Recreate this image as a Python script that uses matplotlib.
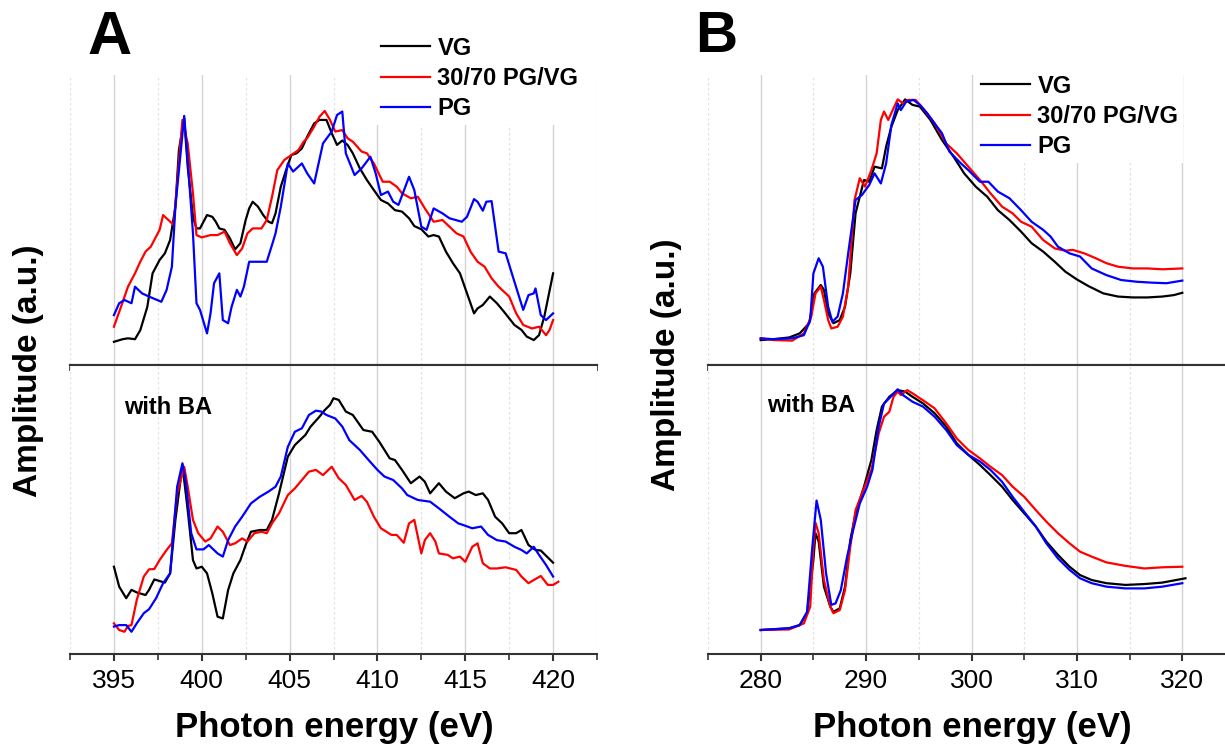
import matplotlib
matplotlib.use("Agg")
from matplotlib import pyplot as plt
from matplotlib.ticker import MultipleLocator

plt.rcParams['font.family'] = ['Liberation Sans', 'DejaVu Sans']

# ---- panel A, top (N K-edge) ----
a_top_vg_x = [395.0, 395.5, 395.8, 396.2, 396.5, 396.9, 397.2, 397.6, 397.9, 398.2, 398.5, 398.7, 399.0, 399.2, 399.5, 399.7, 399.9, 400.3, 400.6, 400.8, 401.0, 401.3, 401.6, 401.9, 402.2, 402.5, 402.7, 402.9, 403.2, 403.5, 403.8, 404.0, 404.2, 404.5, 404.8, 405.1, 405.4, 405.7, 406.0, 406.4, 406.7, 407.1, 407.4, 407.7, 408.0, 408.3, 408.6, 409.0, 409.4, 409.8, 410.2, 410.6, 411.0, 411.4, 411.8, 412.1, 412.5, 412.9, 413.2, 413.5, 413.9, 414.3, 414.7, 415.1, 415.5, 415.7, 416.0, 416.4, 416.8, 417.2, 417.8, 418.2, 418.5, 418.9, 419.2, 419.5, 420.0]
a_top_vg_y = [0.08, 0.089, 0.092, 0.089, 0.12, 0.2, 0.316, 0.362, 0.385, 0.431, 0.546, 0.741, 0.851, 0.684, 0.511, 0.471, 0.471, 0.517, 0.511, 0.494, 0.471, 0.466, 0.437, 0.399, 0.42, 0.5, 0.54, 0.563, 0.546, 0.517, 0.494, 0.489, 0.523, 0.615, 0.672, 0.724, 0.73, 0.747, 0.787, 0.833, 0.845, 0.845, 0.799, 0.759, 0.774, 0.759, 0.73, 0.678, 0.638, 0.603, 0.569, 0.557, 0.534, 0.529, 0.506, 0.479, 0.468, 0.443, 0.448, 0.443, 0.391, 0.351, 0.316, 0.247, 0.178, 0.195, 0.207, 0.236, 0.213, 0.184, 0.138, 0.121, 0.098, 0.086, 0.103, 0.167, 0.316]
a_top_mix_x = [395.0, 395.4, 395.8, 396.2, 396.5, 396.8, 397.1, 397.4, 397.6, 397.8, 398.1, 398.4, 398.6, 398.9, 399.2, 399.5, 399.7, 400.0, 400.5, 400.9, 401.3, 401.6, 402.0, 402.3, 402.6, 402.9, 403.4, 403.7, 404.0, 404.3, 404.7, 405.1, 405.5, 405.8, 406.0, 406.4, 406.7, 407.0, 407.3, 407.6, 408.0, 408.3, 408.6, 409.1, 409.4, 409.8, 410.3, 410.7, 411.1, 411.4, 411.9, 412.3, 412.7, 413.2, 413.7, 414.1, 414.5, 414.9, 415.3, 415.7, 416.1, 416.5, 416.9, 417.5, 417.9, 418.3, 418.8, 419.2, 419.6, 419.8, 420.0]
a_top_mix_y = [0.132, 0.2, 0.27, 0.316, 0.356, 0.391, 0.408, 0.443, 0.466, 0.517, 0.5, 0.483, 0.626, 0.845, 0.764, 0.592, 0.448, 0.44, 0.448, 0.448, 0.46, 0.42, 0.379, 0.402, 0.454, 0.471, 0.471, 0.5, 0.58, 0.672, 0.707, 0.724, 0.741, 0.77, 0.782, 0.822, 0.856, 0.876, 0.845, 0.805, 0.81, 0.782, 0.77, 0.736, 0.73, 0.695, 0.632, 0.632, 0.615, 0.592, 0.575, 0.58, 0.54, 0.494, 0.5, 0.477, 0.454, 0.443, 0.391, 0.356, 0.339, 0.299, 0.27, 0.236, 0.178, 0.138, 0.126, 0.132, 0.103, 0.121, 0.155]
a_top_pg_x = [395.0, 395.3, 395.6, 396.0, 396.2, 396.6, 397.0, 397.7, 398.0, 398.3, 398.5, 399.0, 399.2, 399.5, 399.7, 399.9, 400.3, 400.5, 400.7, 401.0, 401.2, 401.5, 401.7, 402.0, 402.2, 402.4, 402.7, 403.3, 403.7, 404.0, 404.2, 404.5, 404.9, 405.2, 405.7, 406.0, 406.4, 406.9, 407.4, 407.7, 408.0, 408.2, 408.7, 409.1, 409.6, 409.9, 410.2, 410.6, 410.9, 411.2, 411.8, 412.1, 412.5, 412.8, 413.2, 413.7, 414.1, 414.8, 415.1, 415.5, 415.7, 416.0, 416.2, 416.5, 416.9, 417.3, 417.8, 418.3, 418.6, 418.9, 419.0, 419.3, 419.6, 420.0]
a_top_pg_y = [0.172, 0.213, 0.224, 0.213, 0.27, 0.247, 0.236, 0.218, 0.259, 0.339, 0.546, 0.859, 0.707, 0.454, 0.213, 0.19, 0.109, 0.178, 0.282, 0.316, 0.155, 0.144, 0.201, 0.259, 0.236, 0.27, 0.356, 0.356, 0.356, 0.414, 0.454, 0.546, 0.695, 0.667, 0.695, 0.661, 0.626, 0.764, 0.805, 0.862, 0.874, 0.73, 0.655, 0.678, 0.718, 0.661, 0.586, 0.598, 0.563, 0.552, 0.649, 0.603, 0.477, 0.466, 0.54, 0.523, 0.506, 0.494, 0.511, 0.572, 0.563, 0.532, 0.563, 0.565, 0.391, 0.385, 0.287, 0.19, 0.241, 0.247, 0.264, 0.172, 0.155, 0.178]

# ---- panel A, bottom (with BA) ----
a_bot_vg_x = [395.0, 395.3, 395.7, 396.0, 396.3, 396.8, 397.0, 397.3, 397.9, 398.2, 398.5, 398.9, 399.2, 399.5, 399.7, 400.0, 400.3, 400.6, 400.9, 401.2, 401.5, 401.8, 402.2, 402.5, 402.8, 403.3, 403.7, 404.0, 404.4, 404.9, 405.3, 405.9, 406.2, 406.7, 407.0, 407.3, 407.5, 407.8, 408.2, 408.6, 409.2, 409.7, 410.1, 410.7, 411.0, 411.4, 411.9, 412.4, 412.7, 413.0, 413.5, 413.9, 414.4, 414.9, 415.2, 415.6, 416.0, 416.3, 416.7, 417.1, 417.5, 417.9, 418.2, 418.6, 419.0, 419.3, 420.0]
a_bot_vg_y = [0.302, 0.233, 0.193, 0.222, 0.213, 0.204, 0.222, 0.258, 0.247, 0.279, 0.464, 0.654, 0.498, 0.325, 0.296, 0.302, 0.279, 0.21, 0.129, 0.123, 0.221, 0.279, 0.325, 0.377, 0.423, 0.429, 0.429, 0.464, 0.556, 0.683, 0.723, 0.758, 0.787, 0.821, 0.844, 0.862, 0.885, 0.879, 0.839, 0.827, 0.775, 0.769, 0.735, 0.677, 0.671, 0.637, 0.591, 0.614, 0.596, 0.556, 0.591, 0.562, 0.539, 0.556, 0.562, 0.55, 0.556, 0.533, 0.475, 0.452, 0.418, 0.418, 0.429, 0.377, 0.36, 0.358, 0.316]
a_bot_mix_x = [395.0, 395.3, 395.6, 395.8, 396.0, 396.3, 396.7, 397.0, 397.3, 397.6, 398.0, 398.3, 398.6, 399.0, 399.2, 399.5, 399.8, 400.2, 400.5, 400.9, 401.2, 401.6, 401.9, 402.3, 402.6, 403.0, 403.4, 403.7, 404.0, 404.4, 404.9, 405.3, 405.7, 406.1, 406.5, 406.9, 407.4, 407.8, 408.2, 408.7, 409.1, 409.4, 409.8, 410.2, 410.8, 411.1, 411.5, 411.8, 412.1, 412.5, 412.7, 413.0, 413.3, 413.5, 414.0, 414.3, 414.7, 415.0, 415.4, 415.7, 416.0, 416.4, 416.8, 417.3, 417.9, 418.2, 418.6, 418.9, 419.3, 419.7, 420.0, 420.3]
a_bot_mix_y = [0.106, 0.083, 0.077, 0.097, 0.1, 0.187, 0.268, 0.293, 0.294, 0.325, 0.36, 0.383, 0.556, 0.648, 0.579, 0.464, 0.418, 0.389, 0.4, 0.441, 0.423, 0.377, 0.383, 0.4, 0.389, 0.418, 0.423, 0.418, 0.452, 0.487, 0.55, 0.573, 0.602, 0.631, 0.637, 0.619, 0.648, 0.608, 0.585, 0.533, 0.547, 0.527, 0.475, 0.435, 0.412, 0.412, 0.385, 0.452, 0.464, 0.348, 0.394, 0.418, 0.389, 0.348, 0.343, 0.331, 0.337, 0.319, 0.371, 0.383, 0.314, 0.296, 0.296, 0.3, 0.291, 0.268, 0.245, 0.256, 0.27, 0.239, 0.239, 0.25]
a_bot_pg_x = [395.0, 395.3, 395.7, 396.0, 396.3, 396.7, 397.0, 397.4, 397.8, 398.2, 398.6, 398.9, 399.1, 399.4, 399.7, 400.1, 400.4, 400.9, 401.2, 401.5, 401.9, 402.3, 402.8, 403.3, 403.8, 404.2, 404.5, 404.9, 405.3, 405.7, 406.1, 406.5, 406.8, 407.1, 407.6, 408.0, 408.4, 409.0, 409.5, 410.0, 410.4, 410.9, 411.4, 411.7, 412.3, 413.0, 413.5, 414.1, 414.6, 414.9, 415.4, 415.9, 416.3, 416.8, 417.3, 417.8, 418.2, 418.5, 418.9, 419.2, 419.6, 420.0]
a_bot_pg_y = [0.095, 0.1, 0.1, 0.077, 0.106, 0.141, 0.155, 0.193, 0.245, 0.279, 0.579, 0.66, 0.591, 0.418, 0.362, 0.362, 0.377, 0.348, 0.337, 0.394, 0.441, 0.475, 0.521, 0.544, 0.562, 0.579, 0.614, 0.717, 0.769, 0.781, 0.827, 0.842, 0.839, 0.827, 0.815, 0.787, 0.74, 0.706, 0.671, 0.637, 0.614, 0.602, 0.573, 0.55, 0.533, 0.527, 0.504, 0.475, 0.452, 0.446, 0.435, 0.441, 0.412, 0.394, 0.389, 0.371, 0.36, 0.348, 0.371, 0.343, 0.308, 0.268]

# ---- panel B, top (C K-edge) ----
b_top_vg_x = [280, 281.2, 282.7, 283.7, 284.6, 285.1, 285.7, 286.0, 286.4, 286.9, 287.5, 288.0, 288.5, 289.0, 289.8, 290.3, 290.8, 291.5, 291.9, 292.4, 293.0, 293.7, 294.4, 295.1, 296.1, 297.2, 298.3, 299.3, 300.4, 301.5, 302.5, 303.6, 304.7, 305.7, 306.8, 307.9, 308.9, 310.0, 311.1, 312.5, 313.9, 315.3, 316.7, 318.1, 319.2, 320]
b_top_vg_y = [0.086, 0.089, 0.095, 0.109, 0.144, 0.247, 0.276, 0.259, 0.178, 0.144, 0.155, 0.201, 0.316, 0.523, 0.638, 0.632, 0.684, 0.678, 0.753, 0.822, 0.879, 0.916, 0.897, 0.891, 0.845, 0.776, 0.718, 0.661, 0.615, 0.58, 0.534, 0.5, 0.46, 0.42, 0.391, 0.356, 0.322, 0.295, 0.272, 0.247, 0.236, 0.233, 0.233, 0.236, 0.241, 0.249]
b_top_mix_x = [280, 281.2, 283.0, 284.1, 284.8, 285.2, 285.7, 286.0, 286.4, 286.7, 287.3, 287.8, 288.3, 288.9, 289.4, 289.9, 290.5, 291.0, 291.4, 291.7, 292.1, 292.6, 293.0, 293.5, 294.0, 294.7, 295.4, 296.5, 297.6, 298.6, 299.7, 300.8, 301.8, 302.9, 303.9, 304.7, 305.7, 306.8, 307.9, 308.9, 309.6, 310.7, 311.8, 312.8, 313.9, 315.3, 316.7, 318.1, 320]
b_top_mix_y = [0.092, 0.086, 0.084, 0.109, 0.167, 0.247, 0.27, 0.224, 0.155, 0.126, 0.132, 0.167, 0.27, 0.569, 0.644, 0.615, 0.672, 0.73, 0.845, 0.874, 0.845, 0.885, 0.916, 0.902, 0.914, 0.914, 0.885, 0.833, 0.764, 0.73, 0.684, 0.638, 0.592, 0.546, 0.523, 0.494, 0.477, 0.431, 0.402, 0.394, 0.397, 0.385, 0.368, 0.351, 0.339, 0.333, 0.333, 0.33, 0.333]
b_top_pg_x = [280, 281.2, 283.0, 284.1, 284.7, 285.0, 285.5, 285.9, 286.4, 286.8, 287.3, 287.8, 288.3, 289.0, 289.6, 290.3, 290.8, 291.4, 291.9, 292.4, 293.0, 293.3, 293.8, 294.5, 295.1, 295.8, 296.5, 297.2, 297.9, 299.0, 299.7, 300.8, 301.6, 302.5, 303.6, 304.7, 305.7, 306.8, 307.5, 308.2, 309.3, 310.3, 311.4, 312.8, 314.2, 315.7, 317.1, 318.5, 320]
b_top_pg_y = [0.092, 0.089, 0.092, 0.103, 0.155, 0.316, 0.368, 0.339, 0.201, 0.149, 0.167, 0.247, 0.385, 0.569, 0.586, 0.621, 0.661, 0.626, 0.695, 0.828, 0.902, 0.879, 0.908, 0.914, 0.897, 0.868, 0.833, 0.799, 0.736, 0.695, 0.672, 0.632, 0.632, 0.598, 0.575, 0.534, 0.494, 0.466, 0.443, 0.408, 0.385, 0.374, 0.333, 0.31, 0.293, 0.287, 0.284, 0.282, 0.291]

# ---- panel B, bottom (with BA) ----
b_bot_vg_x = [280, 282.7, 283.7, 284.4, 285.0, 285.2, 285.5, 286.0, 286.6, 286.9, 287.5, 288.0, 288.5, 289.0, 289.8, 290.5, 291.0, 291.5, 292.2, 293.0, 293.7, 294.4, 295.4, 296.5, 297.6, 298.6, 299.7, 300.8, 301.8, 302.9, 303.9, 305.0, 306.1, 307.1, 308.2, 309.3, 310.3, 311.4, 312.8, 314.6, 316.4, 318.1, 320.3]
b_bot_vg_y = [0.083, 0.089, 0.1, 0.141, 0.325, 0.418, 0.389, 0.233, 0.164, 0.146, 0.158, 0.233, 0.394, 0.487, 0.579, 0.671, 0.775, 0.856, 0.89, 0.913, 0.908, 0.89, 0.867, 0.833, 0.787, 0.729, 0.689, 0.654, 0.619, 0.579, 0.533, 0.487, 0.441, 0.389, 0.343, 0.302, 0.273, 0.256, 0.245, 0.239, 0.242, 0.247, 0.262]
b_bot_mix_x = [280, 282.7, 284.1, 284.7, 285.0, 285.2, 285.5, 286.0, 286.6, 286.9, 287.5, 288.0, 288.5, 289.0, 289.8, 290.5, 291.2, 291.7, 292.2, 292.6, 293.0, 293.3, 293.9, 294.4, 295.1, 295.6, 296.5, 297.6, 298.6, 299.7, 300.8, 301.8, 302.9, 303.9, 305.0, 306.1, 307.1, 308.2, 309.3, 310.3, 311.4, 312.8, 314.6, 316.4, 318.1, 320]
b_bot_mix_y = [0.083, 0.085, 0.106, 0.164, 0.371, 0.454, 0.418, 0.256, 0.164, 0.141, 0.152, 0.221, 0.371, 0.498, 0.573, 0.637, 0.764, 0.821, 0.838, 0.89, 0.908, 0.896, 0.913, 0.902, 0.885, 0.873, 0.85, 0.798, 0.746, 0.706, 0.677, 0.648, 0.619, 0.579, 0.544, 0.498, 0.458, 0.418, 0.383, 0.354, 0.337, 0.317, 0.305, 0.296, 0.3, 0.302]
b_bot_pg_x = [280, 282.7, 283.7, 284.4, 284.9, 285.3, 285.7, 286.2, 286.7, 287.1, 287.6, 288.2, 288.7, 289.4, 290.1, 290.6, 291.2, 291.7, 292.2, 293.0, 293.5, 294.4, 295.4, 296.5, 297.6, 298.6, 299.7, 300.8, 301.8, 302.9, 303.9, 305.0, 306.1, 307.1, 308.2, 309.3, 310.3, 311.4, 312.8, 314.6, 316.4, 318.1, 320]
b_bot_pg_y = [0.083, 0.089, 0.1, 0.146, 0.371, 0.531, 0.464, 0.279, 0.17, 0.175, 0.221, 0.337, 0.418, 0.521, 0.579, 0.637, 0.787, 0.867, 0.885, 0.916, 0.896, 0.873, 0.856, 0.821, 0.775, 0.723, 0.689, 0.666, 0.637, 0.596, 0.544, 0.492, 0.441, 0.383, 0.331, 0.291, 0.262, 0.245, 0.233, 0.227, 0.227, 0.233, 0.245]

labels = ['VG', '30/70 PG/VG', 'PG']
colors = ['black', '#ff0000', '#0000ff']

W, H = 1225, 746
fig = plt.figure(figsize=(W / 100, H / 100), dpi=100)


def px_axes(x0, y0, x1, y1):
    return fig.add_axes([x0 / W, 1 - y1 / H, (x1 - x0) / W, (y1 - y0) / H])


def style(ax, xlim, major, minor, top_panel):
    ax.set_xlim(*xlim)
    ax.set_ylim(0, 1)
    ax.xaxis.set_major_locator(MultipleLocator(major))
    ax.xaxis.set_minor_locator(MultipleLocator(minor))
    ax.set_yticks([])
    for s in ['left', 'right']:
        ax.spines[s].set_visible(False)
    ax.spines['top'].set_visible(not top_panel)
    for s in ['top', 'bottom']:
        ax.spines[s].set_linewidth(1.5)
        ax.spines[s].set_color('#333333')
    ax.tick_params(axis='x', which='major', direction='out', length=5, width=1.5,
                   color='#333333', labelsize=19, pad=6, top=False)
    ax.tick_params(axis='x', which='minor', direction='out', length=4, width=1.2,
                   color='#333333', top=False)
    if top_panel:
        ax.tick_params(axis='x', which='both', labelbottom=False)
    ax.grid(True, which='major', axis='x', color='#d4d4d4', lw=1.0)
    ax.grid(True, which='minor', axis='x', color='#e2e2e2', lw=0.9, ls=(0, (2, 2)))
    ax.set_axisbelow(True)


# panel A
axA1 = px_axes(70, 75, 597, 365)
axA2 = px_axes(70, 365, 597, 654)
for x, y, c, l in zip([a_top_vg_x, a_top_mix_x, a_top_pg_x], [a_top_vg_y, a_top_mix_y, a_top_pg_y], colors, labels):
    axA1.plot(x, y, color=c, lw=1.6, label=l)
for x, y, c in zip([a_bot_vg_x, a_bot_mix_x, a_bot_pg_x], [a_bot_vg_y, a_bot_mix_y, a_bot_pg_y], colors):
    axA2.plot(x, y, color=c, lw=1.6)
style(axA1, (392.5, 422.5), 5, 2.5, True)
style(axA2, (392.5, 422.5), 5, 2.5, False)

# panel B
axB1 = px_axes(708, 75, 1235, 365)
axB2 = px_axes(708, 365, 1235, 654)
for x, y, c, l in zip([b_top_vg_x, b_top_mix_x, b_top_pg_x], [b_top_vg_y, b_top_mix_y, b_top_pg_y], colors, labels):
    axB1.plot(x, y, color=c, lw=1.6, label=l)
for x, y, c in zip([b_bot_vg_x, b_bot_mix_x, b_bot_pg_x], [b_bot_vg_y, b_bot_mix_y, b_bot_pg_y], colors):
    axB2.plot(x, y, color=c, lw=1.6)
style(axB1, (275, 325), 10, 5, True)
style(axB2, (275, 325), 10, 5, False)

for ax, (lx, ly) in [(axA1, (376, 32)), (axB1, (976, 70))]:
    leg = ax.legend(loc='upper left', bbox_to_anchor=(lx / W, 1 - ly / H),
                    bbox_transform=fig.transFigure, frameon=True, fancybox=False,
                    edgecolor='none', facecolor='white', framealpha=1,
                    prop={'weight': 'bold', 'size': 17}, handlelength=2.1,
                    handletextpad=0.3, labelspacing=0.3, borderpad=0.2,
                    borderaxespad=0)
    leg.set_zorder(5)

# panel letters, inner labels, axis titles
fig.text(110 / W, 1 - 39 / H, 'A', fontsize=44, fontweight='bold', ha='center', va='center')
fig.text(716 / W, 1 - 37 / H, 'B', fontsize=42, fontweight='bold', ha='center', va='center')
fig.text(124 / W, 1 - 407 / H, 'with BA', fontsize=17, fontweight='bold', ha='left', va='center')
fig.text(767 / W, 1 - 406 / H, 'with BA', fontsize=17, fontweight='bold', ha='left', va='center')
fig.text(29 / W, 1 - 371 / H, 'Amplitude (a.u.)', fontsize=24, fontweight='bold',
         rotation=90, ha='center', va='center')
fig.text(667 / W, 1 - 365 / H, 'Amplitude (a.u.)', fontsize=24, fontweight='bold',
         rotation=90, ha='center', va='center')
fig.text(334 / W, 1 - 728 / H, 'Photon energy (eV)', fontsize=25, fontweight='bold', ha='center', va='center')
fig.text(972 / W, 1 - 728 / H, 'Photon energy (eV)', fontsize=25, fontweight='bold', ha='center', va='center')

fig.savefig('out.png', dpi=100)
